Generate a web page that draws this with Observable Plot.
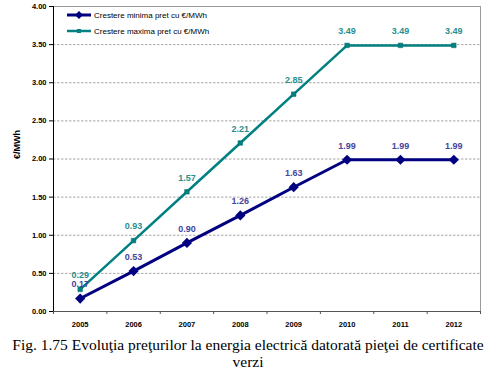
<!DOCTYPE html>
<html>
<head>
<meta charset="utf-8">
<script src="https://cdn.jsdelivr.net/npm/d3@7"></script>
<script src="https://cdn.jsdelivr.net/npm/@observablehq/plot@0.6"></script>
<style>
  html, body { margin: 0; padding: 0; background: #fff; }
  #chart { width: 496px; }
  #caption { width: 496px; text-align: center; font-family: "Liberation Serif", "Times New Roman", serif; font-size: 15.5px; line-height: 17px; color: #000; margin-top: 3px; }
</style>
</head>
<body>
<div id="chart"></div>
<div id="caption">Fig. 1.75 Evoluţia preţurilor la energia electrică datorată pieţei de certificate<br>verzi</div>
<script>
const years = ["2005", "2006", "2007", "2008", "2009", "2010", "2011", "2012"];
const minValues = [0.17, 0.53, 0.90, 1.26, 1.63, 1.99, 1.99, 1.99];
const maxValues = [0.29, 0.93, 1.57, 2.21, 2.85, 3.49, 3.49, 3.49];
const yTicks = [0, 0.5, 1, 1.5, 2, 2.5, 3, 3.5, 4];
const seriesNames = ["Crestere minima pret cu €/MWh", "Crestere maxima pret cu €/MWh"];
const yLabel = "€/MWh";

const minData = years.map((y, i) => ({i, year: y, v: minValues[i]}));
const maxData = years.map((y, i) => ({i, year: y, v: maxValues[i]}));
const bounds = d3.range(years.length + 1).map(i => i - 0.5);

const navy = "#000080";
const teal = "#008080";
const font = "'Liberation Sans', Arial, sans-serif";

const plot = Plot.plot({
  width: 496,
  height: 333,
  marginLeft: 53,
  marginRight: 16,
  marginTop: 6,
  marginBottom: 22,
  style: {fontFamily: font, fontSize: "7.5px", fontWeight: "bold", color: "#000"},
  x: {type: "linear", domain: [-0.5, years.length - 0.5]},
  y: {domain: [0, 4]},
  marks: [
    Plot.ruleY(yTicks.slice(1, -1), {stroke: "#a8a8a8", strokeDasharray: "2.5,1.5", strokeWidth: 1}),
    Plot.frame({stroke: "#9a9a9a"}),
    Plot.ruleX([-0.5], {stroke: "#000"}),
    Plot.ruleY([0], {stroke: "#555"}),
    Plot.axisX({ticks: bounds, tickFormat: () => "", tickSize: 3, stroke: "#555", label: null}),
    Plot.axisY({ticks: yTicks, tickFormat: d3.format(".2f"), tickSize: 4, tickPadding: 3, stroke: "#000",
      label: null, fontSize: 7.5}),
    Plot.text([yLabel], {frameAnchor: "left", rotate: -90, dx: -36, fontSize: 9, fontWeight: "bold", fill: "#000"}),
    Plot.axisX({ticks: d3.range(years.length), tickFormat: i => years[i], tickSize: 0, tickPadding: 10, label: null, fontSize: 7.5}),
    Plot.line(maxData, {x: "i", y: "v", stroke: teal, strokeWidth: 2.5}),
    Plot.dot(maxData, {x: "i", y: "v", symbol: "square", r: 2.6, fill: teal, stroke: "#0a6a6a", strokeWidth: 0.5}),
    Plot.line(minData, {x: "i", y: "v", stroke: navy, strokeWidth: 3}),
    Plot.dot(minData, {x: "i", y: "v", symbol: "diamond2", r: 4.6, fill: navy}),
    Plot.text(maxData, {x: "i", y: "v", text: d => d.v.toFixed(2), dy: -14, fill: "#2a8f8f", fontSize: 9, fontWeight: "bold"}),
    Plot.text(minData, {x: "i", y: "v", text: d => d.v.toFixed(2), dy: -14, fill: "#45459c", fontSize: 9, fontWeight: "bold"})
  ]
});

document.getElementById("chart").appendChild(plot);

// legend inside the plot area
const svg = d3.select(plot);
const legend = svg.append("g")
  .attr("font-family", font).attr("font-size", "8px")
  .attr("font-weight", "normal").attr("text-anchor", "start");
[[navy, "diamond", 3], [teal, "square", 2.5]].forEach(([c, sym, w], k) => {
  const y = 15 + k * 16;
  const g = legend.append("g").attr("transform", `translate(0,${y})`);
  g.append("line").attr("x1", 67).attr("x2", 91).attr("y1", 0).attr("y2", 0).attr("stroke", c).attr("stroke-width", w);
  g.append("path").attr("transform", "translate(79,0)")
    .attr("d", d3.symbol(sym === "diamond" ? d3.symbolDiamond2 : d3.symbolSquare2, sym === "diamond" ? 40 : 20)())
    .attr("fill", c);
  g.append("text").attr("x", 94).attr("dy", "0.35em").attr("fill", "#000").style("font-weight", "normal").text(seriesNames[k]);
});
</script>
</body>
</html>
